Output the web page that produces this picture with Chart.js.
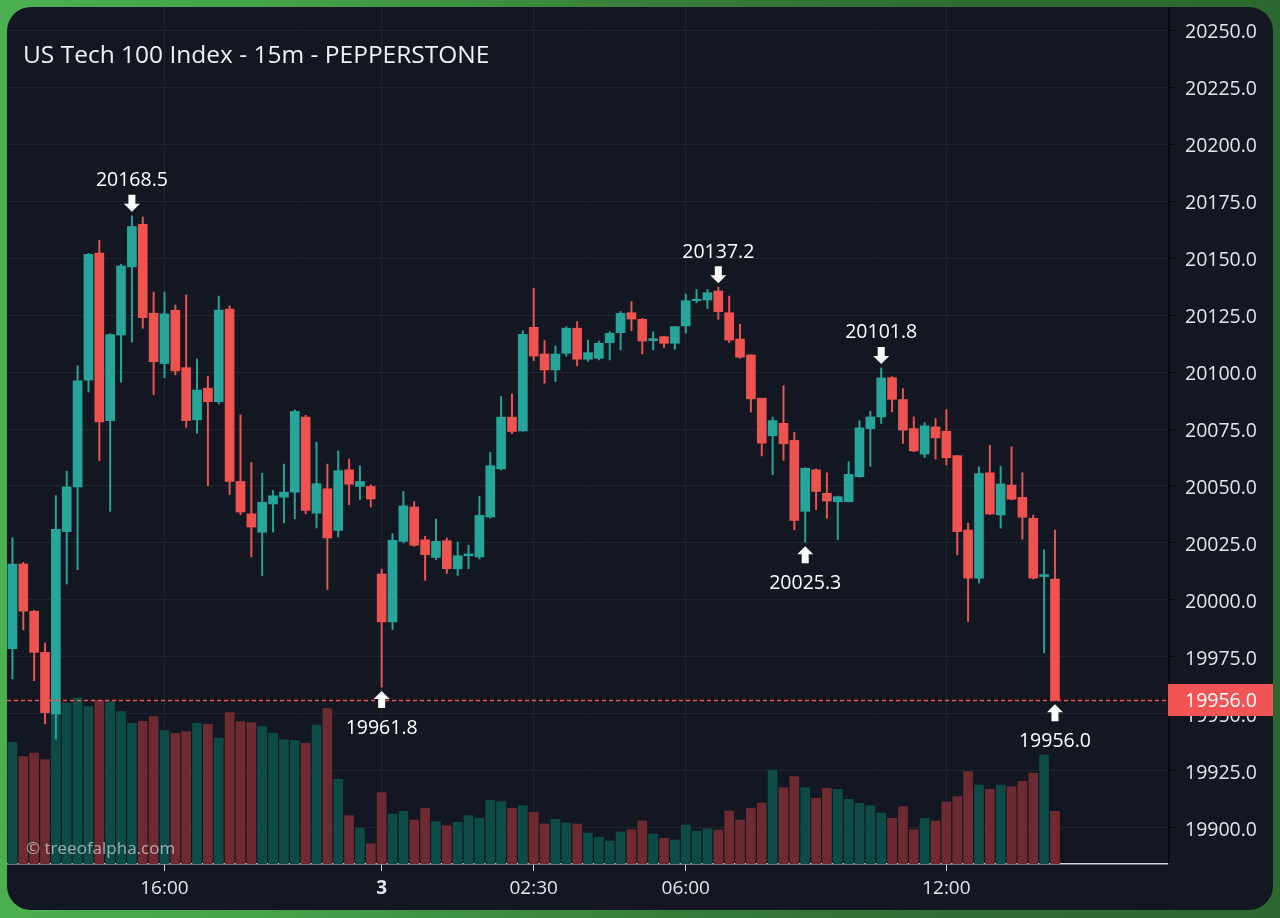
<!DOCTYPE html>
<html>
<head>
<meta charset="utf-8">
<script src="https://cdn.jsdelivr.net/npm/chart.js@4.4.1/dist/chart.umd.min.js"></script>
<style>
  html, body { margin: 0; padding: 0; width: 1280px; height: 918px; overflow: hidden;
    background: linear-gradient(90deg, #4caf50 0%, #45a249 22%, #387f3b 50%, #2f6c32 75%, #2d6830 100%);
    font-family: 'Open Sans', 'Noto Sans', sans-serif; }
  #panel { position: absolute; left: 7px; top: 7px; width: 1266px; height: 903px;
    border-radius: 24px; overflow: hidden; background: #131722; }
  #chart { position: absolute; left: 0; top: 0; }
  #title { position: absolute; left: 16px; top: 32px; font-size: 24.5px; line-height: 30px;
    color: #eef0f4; white-space: nowrap; pointer-events: none; }
  #mark { position: absolute; left: 19px; top: 830px; font-size: 17px; line-height: 22px;
    color: rgba(235, 235, 240, 0.62); white-space: nowrap; pointer-events: none; }
</style>
</head>
<body>
<div id="panel">
  <canvas id="chart" width="1266" height="903"></canvas>
  <div id="title">US Tech 100 Index - 15m - PEPPERSTONE</div>
  <div id="mark">© treeofalpha.com</div>
</div>
<script>
// ---- DATA (15m candles) ----
const opens = [
  19978.6, 20015.8, 19995.1, 19977.0, 19950.0, 20030.0, 20049.6, 20096.4, 20152.2, 20078.6,
  20116.2, 20146.1, 20164.8, 20125.8, 20103.7, 20127.1, 20101.9, 20079.0, 20092.9, 20087.0,
  20127.6, 20052.0, 20037.8, 20029.7, 20042.1, 20045.1, 20047.3, 20080.2, 20038.1, 20048.8,
  20030.5, 20057.1, 20049.8, 20049.8, 20011.4, 19990.4, 20025.7, 20040.8, 20026.4, 20018.7,
  20026.0, 20013.7, 20019.4, 20018.9, 20036.4, 20057.5, 20080.2, 20074.2, 20119.6, 20107.9,
  20100.9, 20108.2, 20119.2, 20105.6, 20106.0, 20112.9, 20117.3, 20126.0, 20123.1, 20113.8,
  20115.5, 20112.6, 20120.2, 20131.3, 20131.6, 20135.5, 20126.0, 20114.5, 20107.5, 20088.5,
  20072.0, 20077.5, 20070.0, 20038.9, 20057.1, 20046.8, 20043.1, 20043.1, 20054.1, 20075.2,
  20080.3, 20097.5, 20087.9, 20075.2, 20064.0, 20075.9, 20074.0, 20063.3, 20030.7, 20009.6,
  20055.8, 20037.3, 20050.4, 20045.0, 20035.8, 20010.3, 20009.2
];
const highs = [
  20027.3, 20016.5, 19995.5, 19981.1, 20045.8, 20056.5, 20102.7, 20152.0, 20157.7, 20116.8,
  20147.3, 20168.5, 20168.0, 20135.1, 20135.1, 20129.4, 20133.8, 20105.7, 20098.0, 20133.3,
  20129.0, 20081.2, 20060.3, 20055.6, 20048.0, 20059.6, 20083.4, 20081.0, 20069.2, 20059.6,
  20065.4, 20061.8, 20058.9, 20050.5, 20013.6, 20029.1, 20047.6, 20043.2, 20027.9, 20035.5,
  20027.2, 20025.4, 20024.0, 20045.4, 20064.7, 20089.2, 20090.4, 20118.1, 20136.7, 20113.8,
  20111.4, 20119.9, 20122.1, 20114.0, 20113.6, 20117.7, 20126.5, 20130.8, 20123.5, 20117.7,
  20115.8, 20120.0, 20134.2, 20136.2, 20136.2, 20137.2, 20133.3, 20121.0, 20107.5, 20088.5,
  20080.2, 20094.0, 20073.5, 20058.0, 20057.5, 20055.8, 20045.6, 20060.6, 20078.6, 20082.8,
  20101.8, 20098.0, 20092.7, 20080.3, 20077.8, 20079.6, 20083.5, 20063.5, 20033.7, 20058.4,
  20067.9, 20058.7, 20067.2, 20055.8, 20037.3, 20022.0, 20030.7
];
const lows = [
  19965.4, 19986.9, 19964.6, 19945.6, 19939.0, 20007.0, 20013.3, 20091.2, 20061.1, 20038.9,
  20095.5, 20113.1, 20119.2, 20090.0, 20097.5, 20098.7, 20075.7, 20073.2, 20050.1, 20086.0,
  20046.2, 20037.4, 20018.9, 20010.7, 20029.8, 20033.8, 20035.6, 20037.8, 20031.6, 20004.6,
  20027.6, 20041.8, 20044.0, 20040.8, 19961.8, 19987.0, 20025.0, 20023.5, 20008.6, 20017.7,
  20011.6, 20010.8, 20013.7, 20018.0, 20035.9, 20057.0, 20072.9, 20074.0, 20105.0, 20095.1,
  20095.8, 20107.0, 20102.7, 20104.6, 20105.3, 20105.3, 20109.7, 20118.1, 20107.9, 20109.7,
  20110.8, 20110.0, 20117.0, 20130.4, 20127.9, 20123.1, 20112.9, 20106.0, 20082.4, 20063.2,
  20054.9, 20061.2, 20030.8, 20025.3, 20039.6, 20035.8, 20026.5, 20043.0, 20053.8, 20058.7,
  20077.4, 20082.5, 20068.7, 20065.0, 20062.5, 20061.8, 20059.2, 20019.8, 19990.6, 20007.4,
  20037.5, 20031.5, 20043.9, 20026.7, 20009.2, 19976.8, 19956.0
];
const closes = [
  20015.8, 19995.1, 19977.0, 19950.6, 20031.0, 20049.6, 20096.1, 20151.6, 20078.1, 20116.4,
  20146.5, 20163.8, 20123.8, 20104.5, 20125.5, 20100.5, 20078.7, 20092.1, 20087.0, 20127.2,
  20052.0, 20038.6, 20032.0, 20042.9, 20045.7, 20047.3, 20082.7, 20039.3, 20051.0, 20027.2,
  20056.7, 20050.8, 20052.0, 20044.3, 19990.4, 20026.2, 20041.3, 20024.0, 20019.9, 20025.7,
  20013.7, 20019.4, 20020.2, 20037.1, 20058.9, 20080.2, 20073.9, 20116.5, 20107.0, 20100.9,
  20107.9, 20119.2, 20105.6, 20108.5, 20112.6, 20117.0, 20125.7, 20123.2, 20113.6, 20114.6,
  20112.6, 20119.9, 20131.3, 20131.9, 20134.8, 20126.5, 20114.0, 20106.5, 20088.2, 20068.8,
  20078.7, 20068.5, 20034.9, 20057.8, 20047.6, 20043.4, 20045.3, 20055.1, 20075.5, 20080.3,
  20097.4, 20088.0, 20074.5, 20065.4, 20076.4, 20071.1, 20062.4, 20030.0, 20009.6, 20055.5,
  20037.7, 20050.9, 20044.2, 20036.3, 20009.6, 20011.1, 19956.0
];
const volumes = [
  365, 322, 333, 313, 480, 482, 498, 472, 490, 487,
  457, 422, 428, 442, 400, 392, 397, 422, 419, 378,
  454, 427, 424, 412, 392, 373, 370, 363, 417, 466,
  254, 145, 107, 61, 214, 150, 158, 132, 167, 127,
  115, 125, 145, 138, 191, 187, 167, 175, 155, 120,
  134, 123, 120, 93, 80, 69, 96, 103, 129, 90,
  77, 72, 117, 98, 106, 102, 159, 132, 167, 183,
  282, 229, 262, 229, 197, 227, 224, 194, 182, 175,
  153, 137, 172, 103, 137, 129, 186, 202, 277, 237,
  224, 237, 232, 248, 273, 327, 158
];
// time-axis tick labels (candle index -> label)
const tickIndex = [14, 34, 48, 62, 86];
const tickText  = ['16:00', '3', '02:30', '06:00', '12:00'];
// price axis range and step
const priceMin = 19884.2;
const priceMax = 20260.1;
const priceStep = 25;
// marked highs / lows
const annIndex = [11, 34, 65, 73, 80, 96];
const annSide  = ['high', 'low', 'high', 'low', 'high', 'low'];
// empty slots to the right of the last candle
const emptySlots = 10;

// ---- STYLE ----
const UP = '#26a69a', DOWN = '#ef5350';
const VOL_UP = '#0d4b46', VOL_DOWN = '#6e2a31';
const GRID = '#212531';
const TXT = '#e2e5ec';
const FONT = "'Open Sans', 'Noto Sans', sans-serif";
Chart.defaults.font.family = FONT;

const categories = opens.map((_, i) => 'c' + i).concat(Array.from({ length: emptySlots }, (_, i) => 'e' + i));
const isUp = opens.map((o, i) => closes[i] >= o);
const candleColors = isUp.map(u => u ? UP : DOWN);
const volColors = isUp.map(u => u ? VOL_UP : VOL_DOWN);

function drawArrow(ctx, cx, tipY, pointsDown) {
  const s = pointsDown ? -1 : 1;
  ctx.beginPath();
  ctx.moveTo(cx, tipY);
  ctx.lineTo(cx + 8, tipY + s * 8);
  ctx.lineTo(cx + 3.5, tipY + s * 8);
  ctx.lineTo(cx + 3.5, tipY + s * 17);
  ctx.lineTo(cx - 3.5, tipY + s * 17);
  ctx.lineTo(cx - 3.5, tipY + s * 8);
  ctx.lineTo(cx - 8, tipY + s * 8);
  ctx.closePath();
  ctx.fill();
}

const overlay = {
  id: 'overlay',
  afterDatasetsDraw(chart) {
    const { ctx, chartArea, scales } = chart;
    const x = scales.x, y = scales.y;
    const last = closes[closes.length - 1];
    const py = Math.round(y.getPixelForValue(last)) + 0.5;
    ctx.save();
    ctx.strokeStyle = '#ef5350';
    ctx.lineWidth = 1.5;
    ctx.setLineDash([4, 3]);
    ctx.beginPath();
    ctx.moveTo(chartArea.left, py);
    ctx.lineTo(chartArea.right, py);
    ctx.stroke();
    ctx.setLineDash([]);
    ctx.fillStyle = '#ffffff';
    ctx.font = '19.5px ' + FONT;
    ctx.textAlign = 'center';
    ctx.textBaseline = 'middle';
    annIndex.forEach((idx, k) => {
      const cx = x.getPixelForValue(idx);
      const high = annSide[k] === 'high';
      const val = high ? highs[idx] : lows[idx];
      const vy = y.getPixelForValue(val);
      if (high) {
        drawArrow(ctx, cx, vy - 4, true);
        ctx.fillText(val.toFixed(1), cx, vy - 35);
      } else {
        drawArrow(ctx, cx, vy + 4, false);
        ctx.fillText(val.toFixed(1), cx, vy + 41);
      }
    });
    ctx.restore();
  },
  afterDraw(chart) {
    const { ctx, chartArea, scales } = chart;
    const y = scales.y;
    const last = closes[closes.length - 1];
    const py = Math.round(y.getPixelForValue(last));
    ctx.save();
    ctx.fillStyle = '#f05454';
    ctx.fillRect(chartArea.right - 1, py - 16, chart.width - chartArea.right + 1, 32);
    ctx.fillStyle = '#ffffff';
    ctx.font = '19.5px ' + FONT;
    ctx.textAlign = 'left';
    ctx.textBaseline = 'middle';
    ctx.fillText(last.toFixed(1), chartArea.right + 16, py + 1);
    ctx.restore();
  }
};

new Chart(document.getElementById('chart'), {
  type: 'bar',
  data: {
    labels: categories,
    datasets: [
      { label: 'Volume', data: volumes, yAxisID: 'yv', backgroundColor: volColors,
        barThickness: 9, grouped: false, order: 3, borderWidth: 0 },
      { label: 'Wick', data: lows.map((l, i) => [l, highs[i]]), yAxisID: 'y', backgroundColor: candleColors,
        barThickness: 1.3, grouped: false, order: 2, borderWidth: 0 },
      { label: 'Body', data: opens.map((o, i) => [o, closes[i]]), yAxisID: 'y', backgroundColor: candleColors,
        barThickness: 9, grouped: false, order: 1, borderWidth: 0, minBarLength: 1 }
    ]
  },
  options: {
    responsive: false,
    animation: false,
    devicePixelRatio: 1,
    layout: { padding: 0, autoPadding: false },
    plugins: { legend: { display: false }, tooltip: { enabled: false }, title: { display: false } },
    scales: {
      x: {
        type: 'category',
        offset: true,
        grid: { offset: false, color: GRID, tickColor: '#d1d4dc', tickLength: 7, drawTicks: true },
        border: { display: true, color: '#d1d4dc', width: 1.5 },
        ticks: {
          autoSkip: false, maxRotation: 0, minRotation: 0, padding: 6, color: TXT,
          font: (c) => ({ family: FONT, size: 19, weight: (c.tick && c.tick.label === '3') ? 'bold' : 'normal' }),
          callback: (v) => { const k = tickIndex.indexOf(v); return k >= 0 ? tickText[k] : ''; }
        },
        afterBuildTicks: (s) => { s.ticks = s.ticks.filter(t => tickIndex.includes(t.value)); },
        afterFit: (s) => { s.height = 46; s.paddingLeft = 0; s.paddingRight = 0; }
      },
      y: {
        position: 'right',
        min: priceMin,
        max: priceMax,
        grid: { color: GRID, tickColor: '#05070a', tickLength: 6 },
        border: { display: true, color: '#05070a', width: 1.5 },
        ticks: { stepSize: priceStep, includeBounds: false, padding: 10, color: TXT, labelOffset: 2,
          font: { family: FONT, size: 19.5 }, callback: (v) => Number(v).toFixed(1) },
        afterFit: (s) => { s.width = 104; s.paddingTop = 0; s.paddingBottom = 0; }
      },
      yv: { display: false, min: 0, max: 2571 }
    }
  },
  plugins: [overlay]
});
</script>
</body>
</html>
